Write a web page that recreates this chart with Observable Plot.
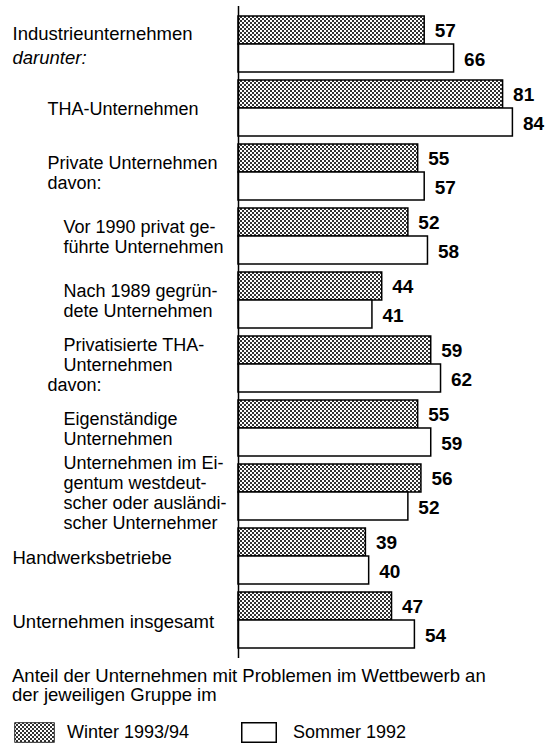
<!DOCTYPE html>
<html>
<head>
<meta charset="utf-8">
<script src="https://cdn.jsdelivr.net/npm/d3@7"></script>
<script src="https://cdn.jsdelivr.net/npm/@observablehq/plot@0.6"></script>
<style>
  html, body { margin: 0; padding: 0; background: #fff; }
  body { width: 557px; height: 744px; overflow: hidden; font-family: "Liberation Sans", Arial, Helvetica, sans-serif; color: #000; }
  #chart svg { display: block; }
  #caption { margin: 6px 0 0 12px; font-size: 18.5px; line-height: 19px; }
  #legend { display: flex; align-items: center; margin: 18px 0 0 14px; font-size: 18px; }
  .item { display: flex; align-items: center; }
  .item svg { display: block; margin-right: 12px; }
</style>
</head>
<body>
<svg width="0" height="0" style="position:absolute">
  <defs>
    <pattern id="stip" width="4" height="4" patternUnits="userSpaceOnUse">
      <rect width="4" height="4" fill="#fff"></rect>
      <rect x="0" y="0" width="2" height="2" fill="#333"></rect>
      <rect x="2" y="2" width="2" height="2" fill="#333"></rect>
    </pattern>
  </defs>
</svg>
<div id="chart"></div>
<div id="caption"></div>
<div id="legend"></div>
<script>
// ---- data ----
const categories = [
  "Industrieunternehmen\ndarunter:",
  "THA-Unternehmen",
  "Private Unternehmen\ndavon:",
  "Vor 1990 privat ge-\nführte Unternehmen",
  "Nach 1989 gegrün-\ndete Unternehmen",
  "Privatisierte THA-\nUnternehmen\ndavon:",
  "Eigenständige\nUnternehmen",
  "Unternehmen im Ei-\ngentum westdeut-\nscher oder ausländi-\nscher Unternehmer",
  "Handwerksbetriebe",
  "Unternehmen insgesamt"
];
// hierarchy depth of each label line
const lineDepth = [[0, 0], [1], [1, 1], [2, 2], [2, 2], [2, 2, 1], [2, 2], [2, 2, 2, 2], [0], [0]];
const italicLines = ["darunter:"];
const seriesNames = ["Winter 1993/94", "Sommer 1992"];
const winter = [57, 81, 55, 52, 44, 59, 55, 56, 39, 47];
const summer = [66, 84, 57, 58, 41, 62, 59, 52, 40, 54];
const captionText = "Anteil der Unternehmen mit Problemen im Wettbewerb an\nder jeweiligen Gruppe im";

// ---- tables ----
const winterRows = categories.map((c, i) => ({category: c, series: seriesNames[0], value: winter[i]}));
const summerRows = categories.map((c, i) => ({category: c, series: seriesNames[1], value: summer[i]}));

const labelRows = [];
categories.forEach((c, i) => {
  const lines = c.split("\n");
  for (const depth of [0, 1, 2]) {
    for (const italic of [false, true]) {
      const txt = lines.map((l, j) => (lineDepth[i][j] === depth && italicLines.includes(l) === italic) ? l : "");
      if (txt.some(t => t)) labelRows.push({category: c, depth, italic, text: txt.join("\n")});
    }
  }
});

const indentDx = [-226, -191, -175];
const labelSize = [18.5, 18, 18];
const labelLead = [1.3, 1.1, 1.1];

const labelMarks = [];
for (const depth of [0, 1, 2]) {
  for (const italic of [false, true]) {
    const rows = labelRows.filter(r => r.depth === depth && r.italic === italic);
    if (!rows.length) continue;
    labelMarks.push(Plot.text(rows, {
      y: "category", text: "text", frameAnchor: "left", textAnchor: "start",
      dx: indentDx[depth], fontSize: labelSize[depth], lineHeight: labelLead[depth],
      fontStyle: italic ? "italic" : "normal", fill: "black"
    }));
  }
}

const chart = Plot.plot({
  width: 557,
  height: 660,
  marginLeft: 238,
  marginRight: 25,
  marginTop: 6,
  marginBottom: 2,
  style: {fontFamily: "'Liberation Sans', Arial, Helvetica, sans-serif", background: "white"},
  x: {domain: [0, 90], axis: null},
  y: {domain: categories, padding: 0.13, axis: null},
  marks: [
    Plot.barX(winterRows, {y: "category", x: "value", fill: "url(#stip)", stroke: "black", strokeWidth: 1.5, insetBottom: 28}),
    Plot.barX(summerRows, {y: "category", x: "value", fill: "white", stroke: "black", strokeWidth: 1.5, insetTop: 28}),
    Plot.ruleX([0], {stroke: "black", strokeWidth: 1.5}),
    Plot.text(winterRows, {y: "category", x: "value", text: d => String(d.value), dx: 10, dy: -14, textAnchor: "start", fontSize: 19, fontWeight: "bold"}),
    Plot.text(summerRows, {y: "category", x: "value", text: d => String(d.value), dx: 10, dy: 15, textAnchor: "start", fontSize: 19, fontWeight: "bold"}),
    ...labelMarks
  ]
});
document.getElementById("chart").appendChild(chart);

// caption
const cap = document.getElementById("caption");
captionText.split("\n").forEach(t => { const d = document.createElement("div"); d.textContent = t; cap.appendChild(d); });

// legend
const legend = document.getElementById("legend");
const fills = ["url(#stip)", "white"];
const swW = [41, 36];
seriesNames.forEach((name, i) => {
  const item = document.createElement("div");
  item.className = "item";
  if (i > 0) item.style.marginLeft = "52px";
  const s = d3.create("svg").attr("width", swW[i]).attr("height", 21);
  s.append("rect").attr("x", 0.75).attr("y", 0.75).attr("width", swW[i] - 1.5).attr("height", 19.5)
    .attr("fill", fills[i]).attr("stroke", "black").attr("stroke-width", i ? 1.5 : 0.8);
  item.appendChild(s.node());
  const span = document.createElement("span");
  span.textContent = name;
  if (i > 0) s.node().style.marginRight = "16px";
  item.appendChild(span);
  legend.appendChild(item);
});
</script>
</body>
</html>
